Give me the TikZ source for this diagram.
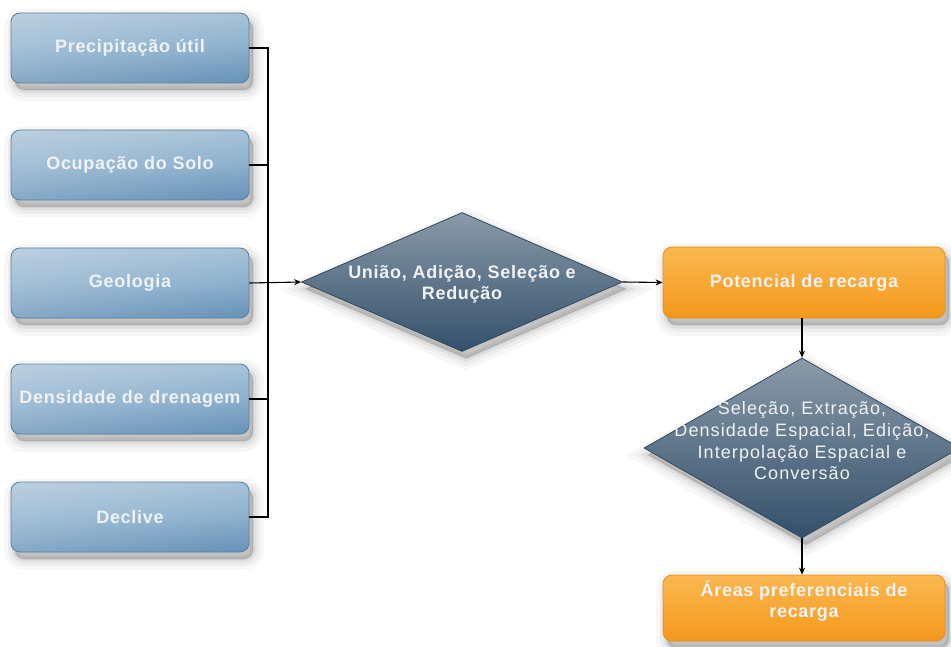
\documentclass[tikz,border=0pt]{standalone}
\usepackage{fontspec}
\setmainfont{Liberation Sans}
\usetikzlibrary{shapes.geometric,arrows.meta,fadings}
\definecolor{bluetop}{HTML}{A9C3D8}
\definecolor{bluemid}{HTML}{8BB0CD}
\definecolor{bluebot}{HTML}{6691B7}
\definecolor{blueedge}{HTML}{56809F}
\definecolor{dtop}{HTML}{8A9AA9}
\definecolor{dbot}{HTML}{33506A}
\definecolor{dedge}{HTML}{2E465B}
\definecolor{otop}{HTML}{FBB850}
\definecolor{obot}{HTML}{F4981C}
\definecolor{oedge}{HTML}{E8901A}
\definecolor{txt}{HTML}{F0F2F4}
\begin{document}
\begin{tikzpicture}[x=1pt,y=1pt,
  bfont/.style={font=\bfseries\fontsize{18}{21}\selectfont\addfontfeature{LetterSpace=4}},
  rfont/.style={font=\fontsize{18}{21.7}\selectfont\addfontfeature{LetterSpace=6}},
  softshadow/.style={
    preaction={draw=black,fill=black,opacity=0.03,line width=22pt,transform canvas={shift={(4pt,-7pt)}}},
    preaction={draw=black,fill=black,opacity=0.04,line width=14pt,transform canvas={shift={(4pt,-7pt)}}},
    preaction={draw=black,fill=black,opacity=0.05,line width=7pt,transform canvas={shift={(4pt,-7pt)}}},
    preaction={draw=black,fill=black,opacity=0.06,line width=2pt,transform canvas={shift={(4pt,-7pt)}}}},
  sheen/.style={path picture={\fill[white,opacity=0.22,path fading=east]
    (path picture bounding box.south west) rectangle (path picture bounding box.north east);}},
  bluebox/.style={rounded corners=9pt,draw=blueedge,line width=0.8pt,top color=bluetop,bottom color=bluebot,middle color=bluemid,
    minimum width=238pt,minimum height=70pt,text=txt,bfont,softshadow,sheen,inner sep=2pt},
  orangebox/.style={rounded corners=9pt,draw=oedge,line width=0.8pt,top color=otop,bottom color=obot,
    minimum width=282pt,minimum height=70pt,text=txt,bfont,softshadow,align=center,inner sep=2pt},
  decision/.style={diamond,draw=dedge,line width=0.8pt,top color=dtop,bottom color=dbot,inner sep=0pt,softshadow},
  lbl/.style={text=txt,align=center},
  conn/.style={line width=1.1pt,black},
  arr/.style={conn,-{Stealth[length=7pt,width=6pt]}}
]
\useasboundingbox[fill=white] (0,0) rectangle (951,-647);

\node[bluebox] (b1) at (130,-48) {Precipitação útil};
\node[bluebox] (b2) at (130,-165) {Ocupação do Solo};
\node[bluebox] (b3) at (130,-283) {Geologia};
\node[bluebox] (b4) at (130,-399) {Densidade de drenagem};
\node[bluebox] (b5) at (130,-517) {Declive};

\node[decision,minimum width=321pt,minimum height=139pt] (d1) at (462,-282) {};
\node[lbl,bfont] (t1) at ([yshift=-2pt]d1.center) {União, Adição, Seleção e\\Redução};

\node[orangebox,minimum height=71pt] (p1) at (804,-282.5) {Potencial de recarga};

\node[decision,minimum width=316pt,minimum height=180pt] (d2) at (802,-448) {};
\node[lbl,rfont] (t2) at ([yshift=7pt]d2.center) {Seleção, Extração,\\Densidade Espacial, Edição,\\Interpolação Espacial e\\Conversão};

\node[orangebox,minimum height=66pt] (p2) at (804,-608) {};
\node[lbl,bfont] (t3) at ([yshift=7pt]p2.center) {Áreas preferenciais de\\recarga};

\coordinate (bus) at (268,-283);
\draw[conn] (b1.east) -- (b1.east -| bus) |- (b5.east);
\draw[conn] (b2.east) -- (b2.east -| bus);
\draw[conn] (b4.east) -- (b4.east -| bus);
\draw[arr] (b3.east) -- (d1.west);
\draw[arr] (d1.east) -- (p1.west);
\draw[arr] (p1.south -| d2.north) -- (d2.north);
\draw[arr] (d2.south) -- (p2.north -| d2.south);
\end{tikzpicture}
\end{document}
